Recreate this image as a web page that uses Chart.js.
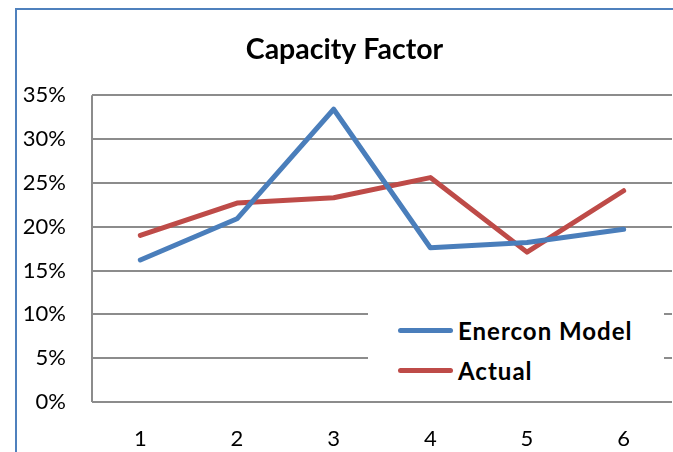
<!DOCTYPE html>
<html>
<head>
<meta charset="utf-8">
<script src="https://cdn.jsdelivr.net/npm/chart.js@4.4.1/dist/chart.umd.min.js"></script>
<style>
  html, body { margin: 0; padding: 0; background: #fff; }
  #wrap { position: relative; width: 673px; height: 452px; overflow: hidden; }
  #legend {
    position: absolute; left: 368px; top: 300px; width: 296px; height: 92px;
    background: #fff; font-family: Lato, sans-serif; font-weight: bold; font-size: 24px;
    letter-spacing: 1px; color: #000;
  }
  .item { position: absolute; left: 30px; height: 26px; display: flex; align-items: center; }
  .swatch { width: 55px; height: 5px; border-radius: 3px; margin-right: 5px; }
</style>
</head>
<body>
<div id="wrap">
  <canvas id="chart" width="673" height="452"></canvas>
  <div id="legend"></div>
</div>
<script>
// --- DATA ---
const categories = ['1', '2', '3', '4', '5', '6'];
const enerconModel = [16.2, 20.9, 33.4, 17.6, 18.2, 19.7];
const actual = [19.0, 22.7, 23.3, 25.6, 17.1, 24.1];
const seriesNames = ['Enercon Model', 'Actual'];
const seriesColors = ['#4A7EBB', '#BE4B48'];

const gridColor = '#8c8c8c';

// chart outline (blue frame round the whole chart)
const frame = {
    id: 'frame',
    beforeDraw(chart) {
        const ctx = chart.ctx;
        ctx.save();
        ctx.strokeStyle = '#4F81BD';
        ctx.lineWidth = 2;
        ctx.strokeRect(16, 9, 700, 500);
        ctx.restore();
    }
};

const chart = new Chart(document.getElementById('chart'), {
    type: 'line',
    data: {
        labels: categories,
        datasets: [
            { label: seriesNames[0], data: enerconModel, borderColor: seriesColors[0], backgroundColor: seriesColors[0] },
            { label: seriesNames[1], data: actual, borderColor: seriesColors[1], backgroundColor: seriesColors[1] }
        ]
    },
    options: {
        responsive: false,
        animation: false,
        layout: { padding: { left: 17, right: 1, top: 0, bottom: 0 } },
        elements: {
            line: { borderWidth: 5, tension: 0, borderCapStyle: 'round', borderJoinStyle: 'round' },
            point: { radius: 0 }
        },
        plugins: {
            legend: { display: false },
            tooltip: { enabled: false },
            title: {
                display: true,
                text: 'Capacity Factor',
                color: '#000',
                font: { family: 'Lato', size: 28.5, weight: 'bold' },
                padding: { top: 33, bottom: 28 }
            }
        },
        scales: {
            x: {
                offset: true,
                grid: {
                    offset: true,
                    drawTicks: false,
                    lineWidth: 2,
                    color: c => (c.index === 0 || c.index === categories.length) ? gridColor : 'rgba(0,0,0,0)'
                },
                border: { display: false },
                ticks: { color: '#000', padding: 24, font: { family: 'Lato', size: 22 } },
                afterFit: s => { s.height = 50; }
            },
            y: {
                min: 0,
                max: 35,
                grid: { drawTicks: false, lineWidth: 2, color: gridColor },
                border: { display: false },
                ticks: {
                    stepSize: 5,
                    color: '#000',
                    padding: 26,
                    font: { family: 'Lato', size: 22 },
                    callback: v => v + '%'
                },
                afterFit: s => { s.width = 75; }
            }
        }
    },
    plugins: [frame]
});

// legend drawn over the plot, like the original
const legend = document.getElementById('legend');
chart.data.datasets.forEach((ds, i) => {
    const item = document.createElement('div');
    item.className = 'item';
    item.style.top = (17 + i * 40) + 'px';
    item.innerHTML = `<span class="swatch" style="background:${ds.borderColor}"></span><span>${ds.label}</span>`;
    legend.appendChild(item);
});
</script>
</body>
</html>
